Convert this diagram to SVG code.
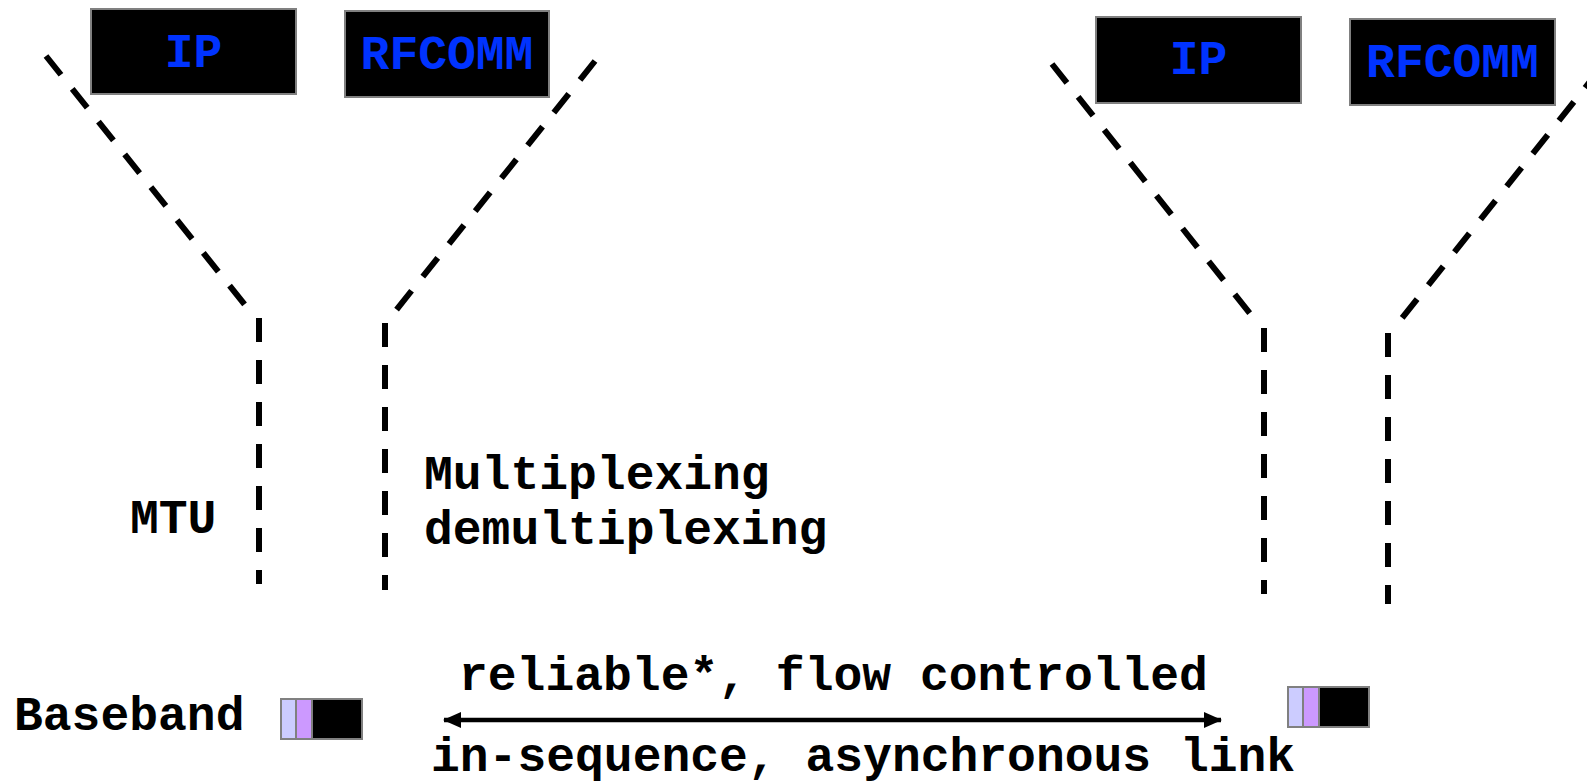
<svg xmlns="http://www.w3.org/2000/svg" width="1587" height="781" viewBox="0 0 1587 781">
<style>
.box{fill:#000;stroke:#808080;stroke-width:2}
.btxt{font-family:"Courier New","Liberation Mono",monospace;font-weight:bold;font-size:48px;fill:#0033FF;text-anchor:middle}
.lbl{font-family:"Courier New","Liberation Mono",monospace;font-weight:bold;font-size:48px;fill:#000}
.dash{fill:none;stroke:#000;stroke-width:6;stroke-dasharray:24 18}
.c1{fill:#CCCCFF;stroke:#808080;stroke-width:2}
.c2{fill:#CC99FF;stroke:#808080;stroke-width:2}
.c3{fill:#000;stroke:#808080;stroke-width:2}
</style>
<defs>
<marker id="ah" viewBox="0 0 18 16" refX="17" refY="8" markerWidth="18" markerHeight="16" markerUnits="userSpaceOnUse" orient="auto-start-reverse">
<path d="M0,0 L18,8 L0,16 Z" fill="#000"/>
</marker>
</defs>
<rect width="1587" height="781" fill="#fff"/>
<g id="connectors">
<line class="dash" x1="46" y1="56" x2="249" y2="310"/>
<line class="dash" x1="259" y1="318" x2="259" y2="584"/>
<line class="dash" x1="595" y1="61" x2="393" y2="314"/>
<line class="dash" x1="385" y1="323" x2="385" y2="590"/>
<line class="dash" x1="1052" y1="64" x2="1252" y2="316"/>
<line class="dash" x1="1264" y1="328" x2="1264" y2="594"/>
<line class="dash" x1="1600" y1="69" x2="1399" y2="322"/>
<line class="dash" x1="1388" y1="333" x2="1388" y2="604"/>
<line x1="444" y1="720" x2="1221" y2="720" stroke="#000" stroke-width="4.5" marker-start="url(#ah)" marker-end="url(#ah)"/>
</g>
<g id="ip-left"><rect class="box" x="91" y="9" width="205" height="85"/><text class="btxt" x="193.5" y="67">IP</text></g>
<g id="rfcomm-left"><rect class="box" x="345" y="11" width="204" height="86"/><text class="btxt" x="447" y="69">RFCOMM</text></g>
<g id="ip-right"><rect class="box" x="1096" y="17" width="205" height="86"/><text class="btxt" x="1198.5" y="74">IP</text></g>
<g id="rfcomm-right"><rect class="box" x="1350" y="19" width="205" height="86"/><text class="btxt" x="1452.5" y="77">RFCOMM</text></g>
<g id="baseband-left">
<rect class="c1" x="281" y="699" width="15" height="40"/>
<rect class="c2" x="296" y="699" width="16" height="40"/>
<rect class="c3" x="312" y="699" width="50" height="40"/>
</g>
<g id="baseband-right">
<rect class="c1" x="1288" y="687" width="15" height="40"/>
<rect class="c2" x="1303" y="687" width="16" height="40"/>
<rect class="c3" x="1319" y="687" width="50" height="40"/>
</g>
<g id="labels">
<text class="lbl" x="130" y="533">MTU</text>
<text class="lbl" x="424" y="489">Multiplexing</text>
<text class="lbl" x="424" y="544">demultiplexing</text>
<text class="lbl" x="14" y="730">Baseband</text>
<text class="lbl" x="459" y="690">reliable*, flow controlled</text>
<text class="lbl" x="431" y="771">in-sequence, asynchronous link</text>
</g>
</svg>
